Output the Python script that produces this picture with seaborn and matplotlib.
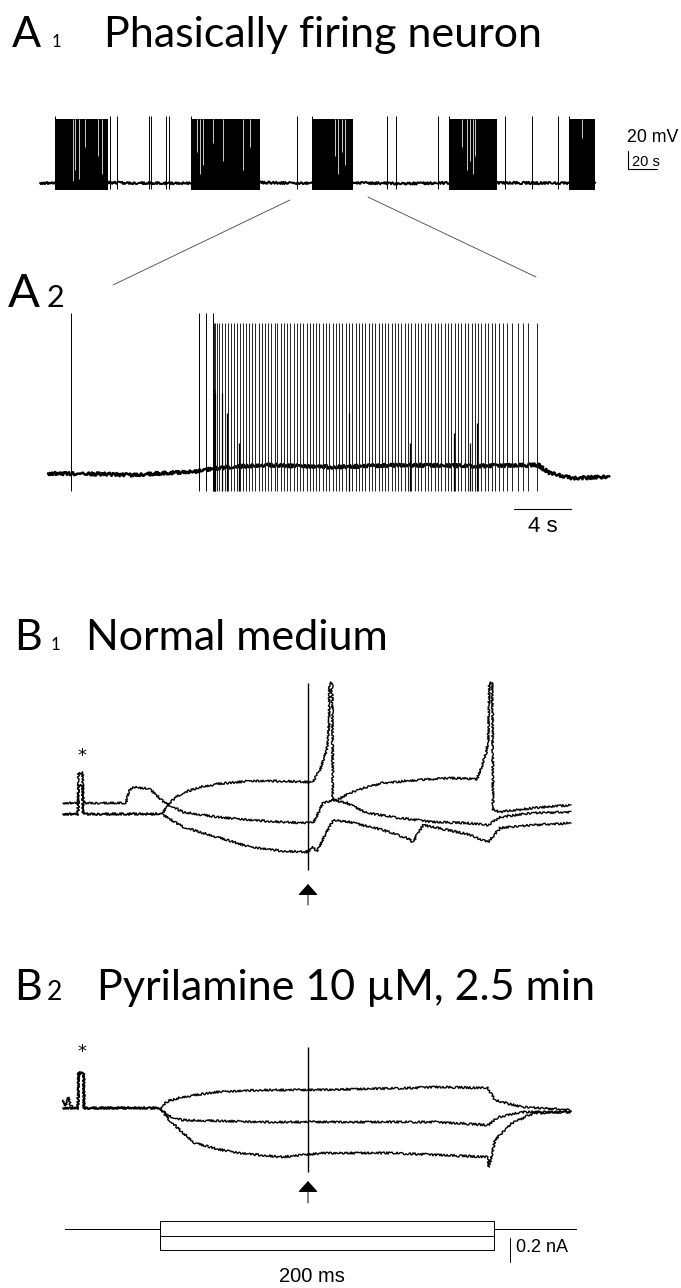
import numpy as np
import pandas as pd
import matplotlib
matplotlib.use("Agg")
import matplotlib.pyplot as plt
import seaborn as sns
from matplotlib.patches import ConnectionPatch

# ---------------- data ----------------
# A1: long recording, time in s, potential in mV
a1_base_t = [0, 10, 47, 60, 100, 104, 152, 180, 187, 216, 250, 282, 315, 340, 365, 383]
a1_base_v = [-60, -60, -59.5, -60, -60.3, -60, -59.5, -60.3, -60, -60, -60.5, -60, -59.8, -60, -60, -60]
a1_burst_start = [10.3, 104.1, 187.6, 282.1, 364.8]
a1_burst_end = [46.9, 151.7, 215.9, 315.2, 382.8]
a1_spikes = [48.3, 53.1, 75.2, 76.6, 86.9, 89.0, 177.2, 239.3, 245.5, 274.5, 320.7, 339.3, 357.2]
a1_gaps = [22.6, 24.1, 27.1, 31.0, 40.2, 42.5, 108.1, 110.3, 112.6, 119.5, 126.0, 140.2, 144.8,
           203.4, 205.7, 208.1, 210.3, 290.8, 294.3, 296.6, 298.4, 300.0, 373.6]
a1_gap_floor = [-58, -45, -55, -20, -30, -50, -25, -50, -40, -15, -35, -45, -20,
                -30, -50, -25, -40, -20, -45, -35, -50, -30, -10]
a1_spike_top, a1_burst_top, a1_spike_bottom = 14, 11.5, -67.5

# A2: expanded burst, time in s, potential in mV
a2_base_t = [0, 3.7, 5.75, 10.3, 11.6, 15, 20, 25, 30, 34.4, 35.2, 36.8, 39.4]
a2_base_v = [-60.2, -60.5, -61, -59.3, -57.7, -56, -57, -56, -56.5, -56, -60, -62.5, -62]
a2_tall_spikes = [1.61, 10.6, 11.09, 11.55]
a2_spikes = [11.62, 11.70, 11.85, 12.02, 12.20, 12.41, 12.60, 12.83, 13.02, 13.25, 13.44, 13.70,
             13.90, 14.12, 14.35, 14.55, 14.80, 15.00, 15.22, 15.45, 15.66, 15.90, 16.10, 16.34,
             16.55, 16.78, 17.00, 17.25, 17.46, 17.70, 17.92, 18.15, 18.38, 18.60, 18.84, 19.05,
             19.30, 19.52, 19.75, 19.98, 20.20, 20.45, 20.66, 20.90, 21.12, 21.36, 21.58, 21.80,
             22.05, 22.28, 22.50, 22.74, 22.96, 23.20, 23.42, 23.66, 23.88, 24.12, 24.35, 24.58,
             24.80, 25.05, 25.28, 25.50, 25.75, 25.98, 26.20, 26.45, 26.68, 26.90, 27.15, 27.38,
             27.60, 27.85, 28.08, 28.30, 28.55, 28.78, 29.00, 29.25, 29.48, 29.72, 29.95, 30.18,
             30.42, 30.66, 30.90, 31.15, 31.40, 31.66, 31.92, 32.20, 32.55, 32.98, 33.33, 33.68, 34.32]
a2_partial = [11.66, 11.75, 12.21, 12.55, 13.40, 21.10, 25.40, 28.50, 29.60, 30.10]
a2_partial_top = [-18, -20, -20, -30, -45, -30, -45, -40, -45, -35]
a2_spike_top, a2_tall_top, a2_spike_bottom = 15, 20, -69

# zoom connector end points (A1 data -> A2 data)
zoom_a1 = [(172.4, -78.9), (226.2, -75.6)]
zoom_a2 = [(4.56, 34.0), (34.25, 38.0)]

# B1: normal medium, time in ms, potential in mV (three sweeps)
b1_top_t = [0, 9.0, 9.3, 11.7, 12.0, 59.3, 63, 67, 71.9, 82, 92.2, 112, 131.7, 146.1, 149.7, 153.9,
            157.9, 159.3, 159.6, 161.2, 161.6, 164.1, 171.9, 182, 191.6, 212, 231.7, 247.9, 250.5,
            253.5, 254.7, 255.3, 257.1, 257.5, 261.7, 281.4, 304.2]
b1_top_v = [-60, -60, -31, -31, -60, -60, -50, -44, -39, -33, -30, -27, -27, -28, -28, -16,
            4, 30, 71, 71, -46, -46, -39, -33, -29, -26, -24, -25, -14,
            2, 14, 71, 71, -56, -58, -54, -51]
b1_mid_t = [0, 9.0, 9.3, 11.7, 12.0, 37.7, 39.5, 41.9, 52.1, 61.1, 71.9, 92.2, 112, 131.7, 146.1,
            149.7, 152, 155.7, 161.7, 170.1, 182, 201.8, 221.6, 241.9, 254.5, 261.7, 281.4, 304.2]
b1_mid_v = [-49, -49, -19, -19, -49, -49, -37, -33, -35, -49, -58, -63, -66, -68, -69,
            -69, -62, -49, -46, -49, -59, -64, -68, -69, -71, -63, -59, -58]
b1_bot_t = [0, 9.0, 9.3, 11.7, 12.0, 59.3, 71.9, 92.2, 112, 131.7, 146.1, 149.7, 152.1, 155.7,
            161.7, 171.9, 191.6, 206, 209.6, 215.6, 221.6, 241.9, 254.5, 261.7, 281.4, 304.2]
b1_bot_v = [-60, -60, -31, -31, -60, -60, -73, -83, -93, -97, -98, -93, -98, -85,
            -66, -68, -76, -84, -88, -71, -73, -80, -88, -74, -71, -69]
b1_artifact = (146.7, -116, 71)

# B2: pyrilamine, time in ms, potential in mV
b2_top_t = [0, 1.5, 3, 4.5, 6, 9.0, 9.3, 12.3, 12.6, 58.1, 63, 71.3, 92.2, 118, 146.7, 209, 222,
            254.5, 258.7, 274.3, 304.2]
b2_top_v = [-52, -58, -49, -57, -60, -60, -25, -25, -60, -60, -53, -49, -44, -42, -42, -40, -39,
            -40, -52, -59, -62]
b2_mid_t = [0, 9.0, 9.3, 12.3, 12.6, 58.1, 63, 71.3, 118, 222, 254.5, 261, 274.3, 304.2]
b2_mid_v = [-60, -60, -25, -25, -60, -60, -68, -72, -74, -74, -77, -69, -64, -64]
b2_bot_t = [0, 9.0, 9.3, 12.3, 12.6, 58.1, 63.5, 71.3, 79, 92.2, 105.4, 131.1, 156.9, 196.4,
            254.5, 255.1, 258.7, 268.9, 282, 304.2]
b2_bot_v = [-60, -60, -25, -25, -60, -60, -72, -84, -95, -101, -105, -109, -105, -105,
            -109, -119, -92, -75, -65, -64]
b2_artifact = (146.7, -124, 1)

# current protocol, time in ms, current in nA
prot_t = [1.2, 58.1, 58.1, 258.1, 258.1, 307.2]
prot_steps = [0.067, -0.058, -0.175]

# ---------------- figure ----------------
sns.set_theme(style="white")
plt.rcParams['font.family'] = ['Lato', 'DejaVu Sans']

W, H = 681, 1288
fig = plt.figure(figsize=(W / 100, H / 100), dpi=100)
fig.patch.set_facecolor('white')


def panel(px0, x0, sx, py0, y0, sy):
    ax = fig.add_axes([0, 0, 1, 1])
    ax.set_xlim(x0 - px0 / sx, x0 + (W - px0) / sx)
    ax.set_ylim(y0 - (H - py0) / sy, y0 + py0 / sy)
    ax.axis('off')
    ax.patch.set_alpha(0)
    return ax


def trace(ax, t, v, lw=1.0, noise=0.9, color='black'):
    sns.lineplot(x=t, y=v, ax=ax, color=color, lw=lw, sort=False, estimator=None, legend=False)
    line = ax.lines[-1]
    if noise:
        line.set_sketch_params(noise, 2.0, 2)
    return line


def ftext(px, py, s, **kw):
    fig.text(px / W, 1 - py / H, s, **kw)


title_kw = dict(fontweight='normal', color='black', va='baseline')
ftext(12, 47, 'A', fontsize=31, **title_kw)
ftext(52, 47, '1', fontsize=12, **title_kw)
ftext(104, 47, 'Phasically firing neuron', fontsize=31, **title_kw)
ftext(8, 307, 'A', fontsize=34, **title_kw)
ftext(47, 307, '2', fontsize=22, **title_kw)
ftext(14, 650, 'B', fontsize=31, **title_kw)
ftext(51, 650, '1', fontsize=12, **title_kw)
ftext(86, 650, 'Normal medium', fontsize=31, **title_kw)
ftext(14, 1000, 'B', fontsize=31, **title_kw)
ftext(47, 1000, '2', fontsize=19, **title_kw)
ftext(97, 1000, 'Pyrilamine 10 \u00b5M, 2.5 min', fontsize=31, **title_kw)

small = dict(family=['Liberation Sans Narrow', 'Liberation Sans', 'DejaVu Sans'], color='black')

# ---- A1 ----
ax1 = panel(40, 0, 1.45, 183, -60, 0.9)
for s, e in zip(a1_burst_start, a1_burst_end):
    ax1.fill_between([s, e], [a1_spike_bottom] * 2, [a1_burst_top] * 2, color='black', lw=0)
ax1.vlines(a1_burst_start + a1_spikes, a1_spike_bottom + 1, a1_spike_top, color='black', lw=0.7)
ax1.vlines(a1_gaps, a1_gap_floor, a1_burst_top, color='white', lw=0.55)
trace(ax1, a1_base_t, a1_base_v, lw=1.4, noise=1.2)
# scale bar 20 mV / 20 s
ax1.plot([405.5, 405.5, 425.5], [-24.4, -44.4, -44.4], color='black', lw=0.8)
ax1.text(404.5, -10, '20 mV', fontsize=12.8, va='center', ha='left', **small)
ax1.text(408.0, -37, '20 s', fontsize=10.5, va='center', ha='left', **small)

# ---- A2 ----
ax2 = panel(48, 0, 14.25, 473, -60, 2.0)
trace(ax2, a2_base_t, a2_base_v, lw=1.8, noise=1.6)
ax2.vlines(a2_tall_spikes, a2_spike_bottom, a2_tall_top, color='black', lw=0.7)
ax2.vlines(a2_spikes, a2_spike_bottom, a2_spike_top, color='#222222', lw=0.7)
ax2.vlines(a2_partial, a2_spike_bottom, a2_partial_top, color='black', lw=0.9)
ax2.plot([32.7, 36.7], [-78, -78], color='black', lw=0.8)
ax2.text(34.7, -86.5, '4 s', fontsize=16, va='center', ha='center',
         family=['Liberation Sans', 'DejaVu Sans'], color='black')

for pa, pb in zip(zoom_a1, zoom_a2):
    con = ConnectionPatch(xyA=pa, coordsA=ax1.transData, xyB=pb, coordsB=ax2.transData,
                          color='#444444', lw=0.6)
    fig.add_artist(con)

# ---- B1 ----
ax3 = panel(63, 0, 1.67, 814, -60, 1.0)
for t, v in [(b1_top_t, b1_top_v), (b1_mid_t, b1_mid_v), (b1_bot_t, b1_bot_v)]:
    trace(ax3, t, v, lw=1.0, noise=1.1)
ax3.vlines([b1_artifact[0]], b1_artifact[1], b1_artifact[2], color='black', lw=1.0)
ax3.text(11.4, -2, '*', fontsize=13, ha='center', va='center', color='black',
         family=['DejaVu Sans'])
ax3.annotate('', xy=(146.7, -130), xytext=(146.7, -151),
             arrowprops=dict(arrowstyle='-|>,head_length=0.5,head_width=0.45',
                             color='black', lw=0.7, mutation_scale=14, shrinkA=0, shrinkB=0))

# ---- B2 ----
ax4 = panel(63, 0, 1.67, 1108, -60, 1.0)
for t, v in [(b2_top_t, b2_top_v), (b2_mid_t, b2_mid_v), (b2_bot_t, b2_bot_v)]:
    trace(ax4, t, v, lw=1.0, noise=1.1)
ax4.vlines([b2_artifact[0]], b2_artifact[1], b2_artifact[2], color='black', lw=1.0)
ax4.text(11.4, -4, '*', fontsize=13, ha='center', va='center', color='black',
         family=['DejaVu Sans'])
ax4.annotate('', xy=(146.7, -133), xytext=(146.7, -155),
             arrowprops=dict(arrowstyle='-|>,head_length=0.5,head_width=0.45',
                             color='black', lw=0.7, mutation_scale=14, shrinkA=0, shrinkB=0))

# ---- current protocol ----
ax5 = panel(63, 0, 1.67, 1229, 0.0, 120.0)
for st in prot_steps:
    iv = [0, 0, st, st, 0, 0]
    trace(ax5, prot_t, iv, lw=0.7, noise=0)
ax5.plot([267.7, 267.7], [-0.075, -0.275], color='black', lw=0.7)
ax5.text(271.3, -0.15, '0.2 nA', fontsize=13, va='center', ha='left', **small)
ax5.text(149.0, -0.40, '200 ms', fontsize=14.5, va='center', ha='center', **small)

fig.savefig('out.png', dpi=100, facecolor='white')
